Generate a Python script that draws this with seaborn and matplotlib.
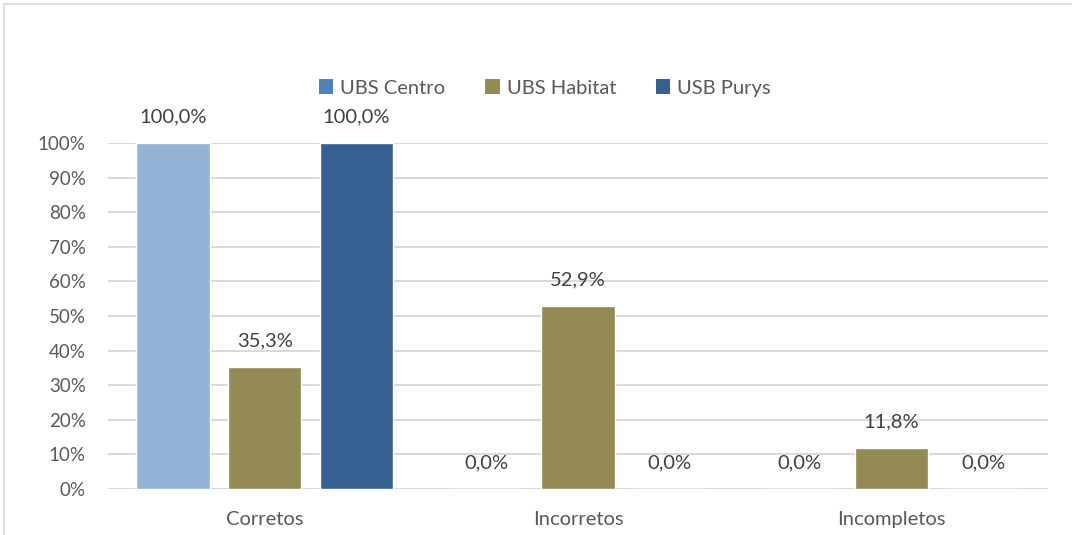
import matplotlib
matplotlib.use("Agg")
import matplotlib.pyplot as plt
from matplotlib.patches import Patch
from matplotlib.lines import Line2D
import seaborn as sns
import pandas as pd

categories = ["Corretos", "Incorretos", "Incompletos"]
series_names = ["UBS Centro", "UBS Habitat", "USB Purys"]
ubs_centro = [100.0, 0.0, 0.0]
ubs_habitat = [35.3, 52.9, 11.8]
usb_purys = [100.0, 0.0, 0.0]
y_ticks = [0, 10, 20, 30, 40, 50, 60, 70, 80, 90, 100]

bar_colors = ["#95B3D7", "#948A54", "#366092"]
legend_colors = ["#4F81BD", "#948A54", "#366092"]
text_color = "#595959"

rows = []
for name, vals in zip(series_names, [ubs_centro, ubs_habitat, usb_purys]):
    for cat, v in zip(categories, vals):
        rows.append({"categoria": cat, "serie": name, "valor": v})
df = pd.DataFrame(rows)

sns.set_style("white")
plt.rcParams["font.family"] = ["Lato", "DejaVu Sans"]

fig = plt.figure(figsize=(10.72, 5.35), dpi=100)
ax = fig.add_axes([108 / 1072, 46 / 535, 940 / 1072, 346 / 535])

sns.barplot(data=df, x="categoria", y="valor", hue="serie", order=categories,
            hue_order=series_names, palette=bar_colors, width=0.88, gap=0.2,
            saturation=1, legend=False, ax=ax, zorder=3)

ax.set_xlim(-0.5, 2.5)
ax.set_ylim(0, 100)
ax.set_yticks(y_ticks)
ax.set_yticklabels([f"{t}%" for t in y_ticks])
ax.yaxis.grid(True, color="#D9D9D9", linewidth=1.4, zorder=0)
ax.set_axisbelow(True)
for s in ax.spines.values():
    s.set_visible(False)
ax.set_xlabel("")
ax.set_ylabel("")
ax.tick_params(axis="both", length=0, labelcolor=text_color)
ax.tick_params(axis="y", labelsize=13.5, pad=16)
ax.tick_params(axis="x", labelsize=14.5, pad=16)

# value labels above each bar
for container in ax.containers:
    for bar in container:
        h = bar.get_height()
        ax.annotate(f"{h:.1f}%".replace(".", ","),
                    (bar.get_x() + bar.get_width() / 2, h),
                    xytext=(0, 19), textcoords="offset points",
                    ha="center", va="center", fontsize=14.5,
                    color="#404040", annotation_clip=False)

handles = [Patch(facecolor=c, edgecolor="none") for c in legend_colors]
fig.legend(handles, series_names, loc="center", bbox_to_anchor=(545 / 1072, 1 - 88 / 535),
           ncol=3, frameon=False, fontsize=14.5, handlelength=0.7, handleheight=0.7,
           handletextpad=0.35, columnspacing=2.0, labelcolor=text_color)

# outer chart border (top and left edges)
fig.add_artist(Line2D([4 / 1072, 4 / 1072], [0, 1 - 4 / 535], color="#D9D9D9", linewidth=1.2))
fig.add_artist(Line2D([4 / 1072, 1], [1 - 4 / 535, 1 - 4 / 535], color="#D9D9D9", linewidth=1.2))

fig.savefig("out.png", dpi=100)
